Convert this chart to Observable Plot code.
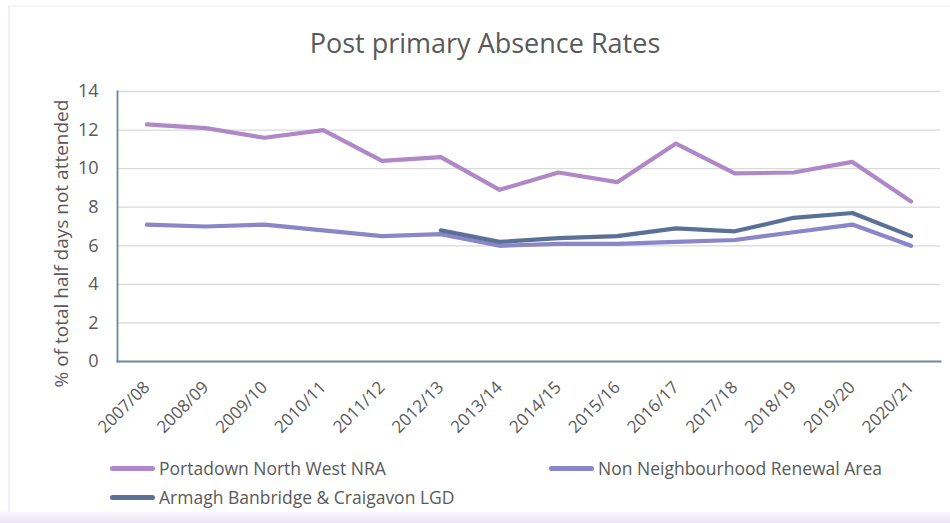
<!DOCTYPE html>
<html>
<head>
<meta charset="utf-8">
<script src="https://cdn.jsdelivr.net/npm/d3@7"></script>
<script src="https://cdn.jsdelivr.net/npm/@observablehq/plot@0.6"></script>
<style>
  html, body { margin: 0; padding: 0; background: #fff; }
  #wrap { position: relative; width: 950px; height: 523px; overflow: hidden; font-family: "Open Sans", sans-serif; color: #595959;
    background: linear-gradient(to bottom, #ffffff 0px, #ffffff 508px, #ece3f5 523px); }
  #frame { position: absolute; left: 8px; top: 5px; width: 950px; height: 505px; border-left: 2px solid #f3eff9; border-top: 2px solid #f5f3fb; background: #fff; }
  #title { position: absolute; left: 0; top: 24px; width: 970px; text-align: center; font-size: 27px; color: #595959; }
  #chart { position: absolute; left: 0; top: 0; }
  .leg { position: absolute; font-size: 17.5px; color: #595959; display: flex; align-items: center; white-space: nowrap; height: 24px; }
  .sw { display: inline-block; width: 45px; height: 5px; border-radius: 3px; margin-right: 4px; }
</style>
</head>
<body>
<div id="wrap">
  <div id="frame"></div>
  <div id="chart"></div>
  <div id="title">Post primary Absence Rates</div>
  <div id="legend"></div>
</div>
<script>
const years = ["2007/08","2008/09","2009/10","2010/11","2011/12","2012/13","2013/14","2014/15","2015/16","2016/17","2017/18","2018/19","2019/20","2020/21"];
const portadown = [12.3, 12.1, 11.6, 12.0, 10.4, 10.6, 8.9, 9.8, 9.3, 11.3, 9.75, 9.8, 10.35, 8.3];
const nonNRA = [7.1, 7.0, 7.1, 6.8, 6.5, 6.6, 6.0, 6.1, 6.1, 6.2, 6.3, 6.7, 7.1, 6.0];
const lgd = [null, null, null, null, null, 6.8, 6.2, 6.4, 6.5, 6.9, 6.75, 7.45, 7.7, 6.5];
const seriesNames = ["Portadown North West NRA", "Non Neighbourhood Renewal Area", "Armagh Banbridge & Craigavon LGD"];
const seriesColors = ["#b087c7", "#8b86c8", "#5b7096"];
const yTicks = [0, 2, 4, 6, 8, 10, 12, 14];
const yTitle = "% of total half days not attended";

const seriesValues = [portadown, nonNRA, lgd];
const data = [];
seriesNames.forEach((name, si) => {
  years.forEach((yr, i) => {
    const v = seriesValues[si][i];
    if (v != null) data.push({series: name, year: yr, value: v});
  });
});

const plot = Plot.plot({
  width: 950,
  height: 440,
  marginLeft: 117,
  marginRight: 10,
  marginTop: 91,
  marginBottom: 79,
  style: { fontFamily: "Open Sans, sans-serif", color: "#595959", background: "transparent", overflow: "visible" },
  x: { type: "point", domain: years, padding: 0.5, round: false, label: null },
  y: { domain: [0, 14], ticks: yTicks, label: null },
  color: { domain: seriesNames, range: seriesColors },
  marks: [
    Plot.gridY(yTicks.filter(d => d > 0), { stroke: "#d9d9d9", strokeOpacity: 1, strokeWidth: 1.3 }),
    Plot.axisY({ ticks: yTicks, tickSize: 0, tickPadding: 19, fontSize: 18, fill: "#595959", label: null }),
    Plot.axisX({ tickSize: 0, tickRotate: -45, tickPadding: 23, fontSize: 17, fill: "#595959", label: null }),
    Plot.frame({ anchor: "left", stroke: "#6f83a3", strokeWidth: 1.8 }),
    Plot.frame({ anchor: "bottom", stroke: "#6f83a3", strokeWidth: 1.8 }),
    Plot.text([yTitle], { frameAnchor: "left", dx: -56, dy: 17, rotate: -90, textAnchor: "middle", fontSize: 19, fill: "#595959", text: d => d }),
    Plot.line(data, { x: "year", y: "value", z: "series", stroke: "series", strokeWidth: 4.2, strokeLinecap: "round", strokeLinejoin: "round" })
  ]
});
document.getElementById("chart").appendChild(plot);

const legendPos = [[110, 456], [549, 456], [110, 485]];
const leg = document.getElementById("legend");
seriesNames.forEach((name, i) => {
  const d = document.createElement("div");
  d.className = "leg";
  d.style.left = legendPos[i][0] + "px";
  d.style.top = legendPos[i][1] + "px";
  d.innerHTML = `<span class="sw" style="background:${seriesColors[i]}"></span>`;
  d.appendChild(document.createTextNode(name));
  leg.appendChild(d);
});
</script>
</body>
</html>
